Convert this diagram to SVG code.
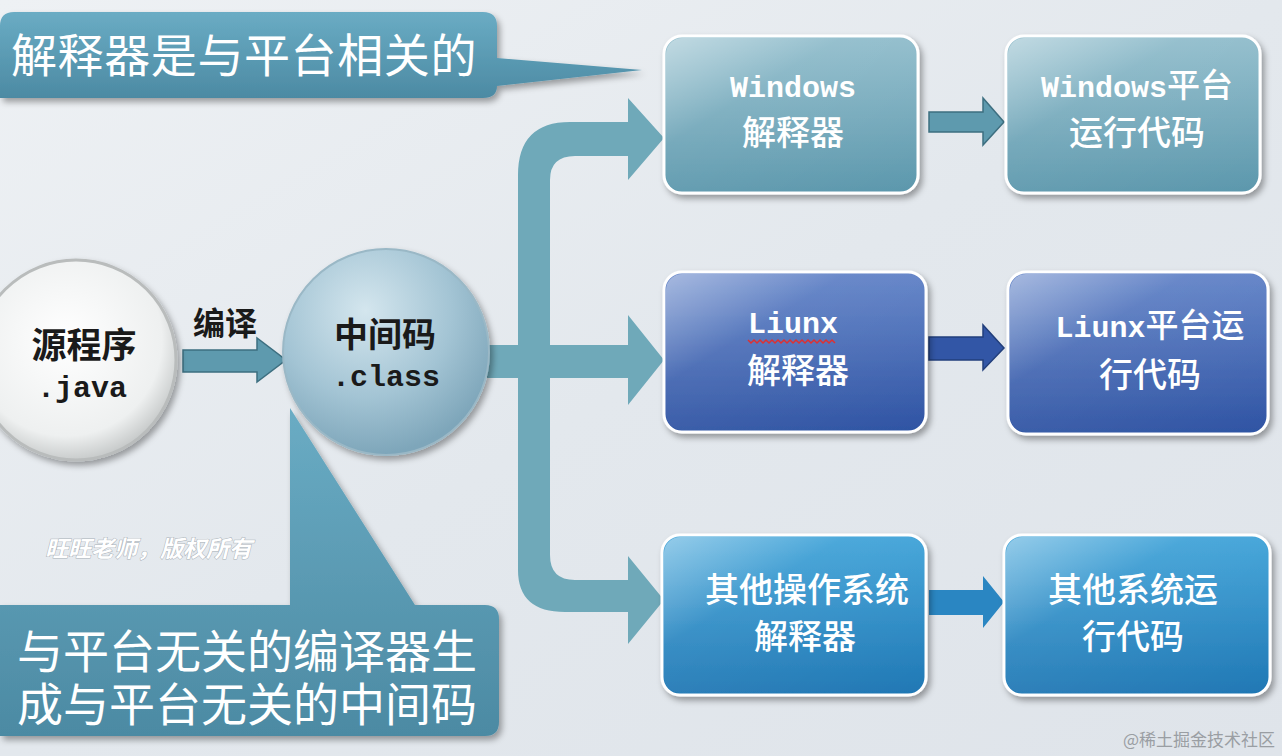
<svg xmlns="http://www.w3.org/2000/svg" width="1282" height="756" viewBox="0 0 1282 756">
<defs>
<linearGradient id="bg" x1="0" y1="0" x2="1" y2="1">
<stop offset="0" stop-color="#eef1f4"/><stop offset="0.5" stop-color="#e3e8ed"/><stop offset="1" stop-color="#dfe4ea"/>
</linearGradient>
<linearGradient id="gTeal" x1="0" y1="0" x2="0" y2="1">
<stop offset="0" stop-color="#8fbccb"/><stop offset="1" stop-color="#5b97ac"/>
</linearGradient>
<linearGradient id="gDark" x1="0" y1="0" x2="0" y2="1">
<stop offset="0" stop-color="#5e80c6"/><stop offset="1" stop-color="#2e53a3"/>
</linearGradient>
<linearGradient id="gBright" x1="0" y1="0" x2="0" y2="1">
<stop offset="0" stop-color="#3da2d8"/><stop offset="1" stop-color="#1f77b4"/>
</linearGradient>
<linearGradient id="gCall" x1="0" y1="0" x2="0" y2="1">
<stop offset="0" stop-color="#6aacc4"/><stop offset="1" stop-color="#4c8aa3"/>
</linearGradient>
<linearGradient id="gloss" x1="0" y1="0" x2="1" y2="1">
<stop offset="0" stop-color="#ffffff" stop-opacity="0.45"/><stop offset="0.35" stop-color="#ffffff" stop-opacity="0.08"/><stop offset="1" stop-color="#ffffff" stop-opacity="0"/>
</linearGradient>
<radialGradient id="gSrc" cx="0.45" cy="0.4" r="0.6">
<stop offset="0" stop-color="#ffffff"/><stop offset="0.8" stop-color="#eef0f0"/><stop offset="1" stop-color="#c9cccc"/>
</radialGradient>
<radialGradient id="gMid" cx="0.4" cy="0.3" r="0.7">
<stop offset="0" stop-color="#d4e6ee"/><stop offset="0.6" stop-color="#a3c4d4"/><stop offset="1" stop-color="#7ea6ba"/>
</radialGradient>
<filter id="sh" x="-10%" y="-10%" width="125%" height="130%">
<feDropShadow dx="3" dy="4" stdDeviation="3" flood-color="#000" flood-opacity="0.35"/>
</filter>
<style>
.box{stroke:#ffffff;stroke-width:3;filter:url(#sh)}
.cj{font-family:"Noto Sans CJK SC",sans-serif;font-weight:500;fill:#fff;text-anchor:middle;font-size:34px}
.lat{font-family:"Liberation Mono","Noto Sans CJK SC",monospace;font-weight:bold;fill:#fff;text-anchor:middle;font-size:30px}
.dk{font-family:"Noto Sans CJK SC",sans-serif;font-weight:bold;fill:#1a1a1a;text-anchor:middle}
.mono{font-family:"Liberation Mono",monospace;font-weight:bold;fill:#1a1a1a;text-anchor:middle;font-size:30px}
.big{font-family:"Noto Sans CJK SC",sans-serif;fill:#fff;font-size:46px}
.conn{fill:#6fa9b9}
</style>
</defs>
<rect width="1282" height="756" fill="url(#bg)"/>

<g id="connectors">
<path class="conn" d="M487,345 L628,345 L628,315 L664,360 L628,405 L628,378 L487,378 Z"/>
<path class="conn" d="M518,600 L518,175 Q518,122 570,122 L628,122 L628,98 L664,138 L628,180 L628,156 L575,156 Q550,156 550,180 L550,555 Q550,580 575,580 L628,580 L628,556 L664,600 L628,644 L628,612 L565,612 Q518,612 518,570 Z"/>
<path fill="#5e9aae" stroke="#3d6f80" stroke-width="1.5" d="M183,350 L257,350 L257,338 L286,360 L257,382 L257,372 L183,372 Z"/>
<path fill="#5e9aae" stroke="#3d6f80" stroke-width="1.5" d="M929,112 L983,112 L983,98 L1004,122 L983,145 L983,132 L929,132 Z"/>
<path fill="#3256a6" stroke="#223f7c" stroke-width="1.5" d="M929,337 L983,337 L983,325 L1004,348 L983,370 L983,360 L929,360 Z"/>
<path fill="#2a86c2" d="M929,590 L983,590 L983,576 L1004,602 L983,628 L983,615 L929,615 Z"/>
</g>

<g id="callout-top">
<path fill="url(#gCall)" filter="url(#sh)" d="M14,12 L483,12 Q497,12 497,26 L497,58 L642,70 L497,86 Q497,98 483,98 L0,98 L0,26 Q0,12 14,12 Z"/>
<text class="big" x="11" y="72" letter-spacing="0.6">解释器是与平台相关的</text>
</g>

<g id="callout-bottom">
<path fill="url(#gCall)" filter="url(#sh)" d="M290,408 L415,605 L485,605 Q499,605 499,619 L499,722 Q499,736 485,736 L0,736 L0,605 L290,605 Z"/>
<text class="big"><tspan x="17" y="668">与平台无关的编译器生</tspan><tspan x="17" y="721">成与平台无关的中间码</tspan></text>
</g>

<g id="node-source">
<circle cx="76" cy="360" r="100" fill="url(#gSrc)" stroke="#b9bcbc" stroke-width="3" filter="url(#sh)"/>
<text class="dk" x="84" y="358" font-size="35">源程序</text>
<text class="mono" x="82" y="397">.java</text>
</g>

<text class="dk" x="225" y="335" font-size="32">编译</text>

<g id="node-class">
<circle cx="386" cy="352" r="103" fill="url(#gMid)" stroke="#9ab8c6" stroke-width="2" filter="url(#sh)"/>
<text class="dk" x="385" y="347" font-size="34">中间码</text>
<text class="mono" x="386" y="386">.class</text>
</g>

<text x="45" y="557" font-family="Noto Sans CJK SC,sans-serif" font-size="23" font-weight="bold" font-style="italic" fill="#ffffff" stroke="#a9b1b8" stroke-width="1" paint-order="stroke">旺旺老师，版权所有</text>

<g id="node-win-interp">
<rect class="box" x="664" y="36" width="254" height="157" rx="18" fill="url(#gTeal)"/>
<rect x="666" y="38" width="250" height="153" rx="16" fill="url(#gloss)"/>
<text class="lat" x="793" y="97">Windows</text>
<text class="cj" x="793" y="145">解释器</text>
</g>
<g id="node-win-run">
<rect class="box" x="1006" y="36" width="254" height="157" rx="18" fill="url(#gTeal)"/>
<rect x="1008" y="38" width="250" height="153" rx="16" fill="url(#gloss)"/>
<text class="lat" x="1137" y="97" font-size="28">Windows<tspan font-family="Noto Sans CJK SC,sans-serif" font-weight="500" font-size="33">平台</tspan></text>
<text class="cj" x="1137" y="145">运行代码</text>
</g>

<g id="node-linux-interp">
<rect class="box" x="664" y="272" width="262" height="160" rx="18" fill="url(#gDark)"/>
<rect x="666" y="274" width="258" height="156" rx="16" fill="url(#gloss)"/>
<text class="lat" x="793" y="333">Liunx</text>
<path d="M748,340 l3,3 l3,-3 l3,3 l3,-3 l3,3 l3,-3 l3,3 l3,-3 l3,3 l3,-3 l3,3 l3,-3 l3,3 l3,-3 l3,3 l3,-3 l3,3 l3,-3 l3,3 l3,-3 l3,3 l3,-3 l3,3 l3,-3 l3,3 l3,-3 l3,3 l3,-3 l3,3" fill="none" stroke="#e03030" stroke-width="1.5"/>
<text class="cj" x="798" y="383" font-size="33">解释器</text>
</g>
<g id="node-linux-run">
<rect class="box" x="1008" y="272" width="260" height="162" rx="18" fill="url(#gDark)"/>
<rect x="1010" y="274" width="256" height="158" rx="16" fill="url(#gloss)"/>
<text class="lat" x="1150" y="337" font-size="28">Liunx<tspan font-family="Noto Sans CJK SC,sans-serif" font-weight="500" font-size="33">平台运</tspan></text>
<text class="cj" x="1150" y="387">行代码</text>
</g>

<g id="node-other-interp">
<rect class="box" x="662" y="535" width="264" height="160" rx="18" fill="url(#gBright)"/>
<rect x="664" y="537" width="260" height="156" rx="16" fill="url(#gloss)"/>
<text class="cj" x="807" y="602" font-size="35">其他操作系统</text>
<text class="cj" x="805" y="649">解释器</text>
</g>
<g id="node-other-run">
<rect class="box" x="1004" y="535" width="266" height="160" rx="18" fill="url(#gBright)"/>
<rect x="1006" y="537" width="262" height="156" rx="16" fill="url(#gloss)"/>
<text class="cj" x="1133" y="602" font-size="35">其他系统运</text>
<text class="cj" x="1133" y="649">行代码</text>
</g>

<text x="1275" y="746" text-anchor="end" font-family="Noto Sans CJK SC,sans-serif" font-size="17" fill="#9a9ea3">@稀土掘金技术社区</text>
</svg>
